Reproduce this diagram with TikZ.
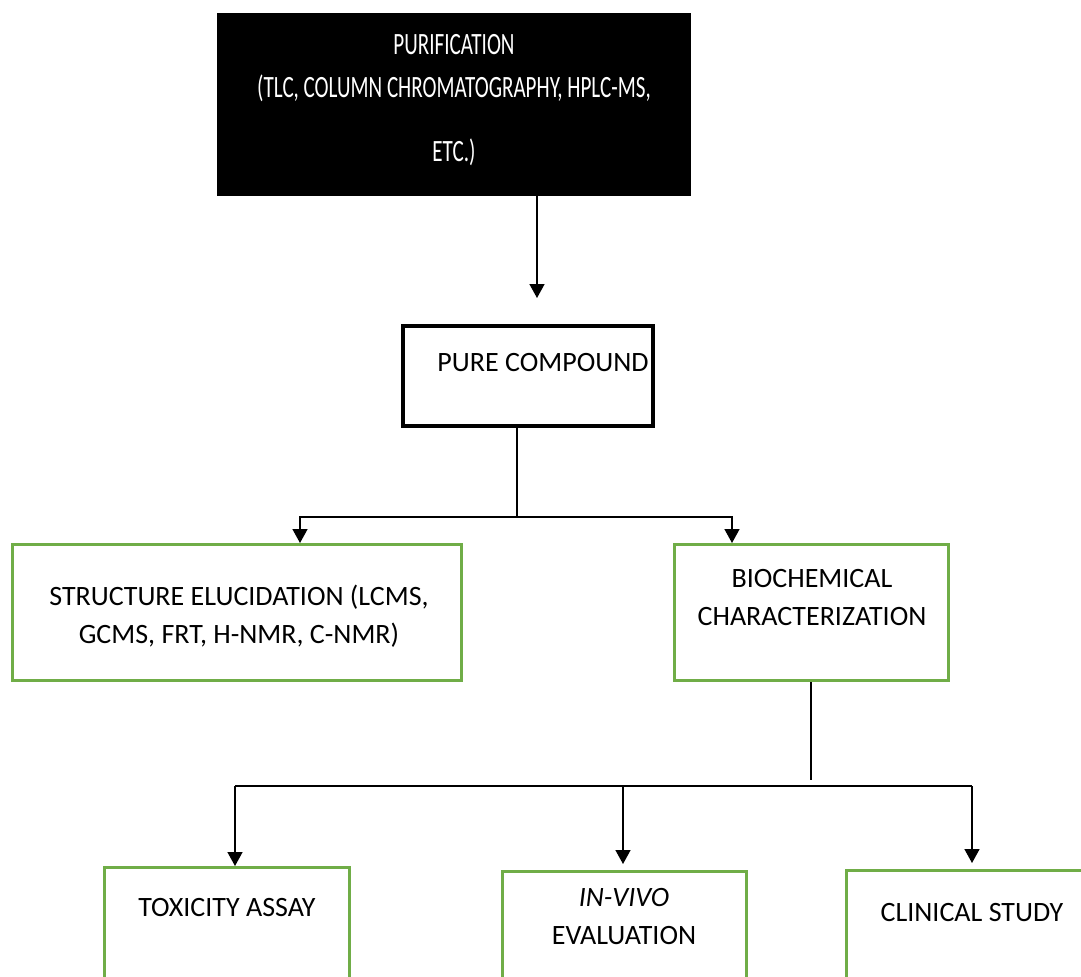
\documentclass[tikz,border=0pt]{standalone}
\usepackage{fontspec}
\setmainfont{Carlito}
\newfontfamily\narrowfont[FakeStretch=0.68]{Carlito}
\usetikzlibrary{arrows.meta}
\definecolor{boxgreen}{HTML}{70AD47}
\tikzset{
  link/.style={line width=0.75pt},
  arr/.style={link,-{Triangle[width=7.5pt,length=7pt]}},
  greenbox/.style={draw=boxgreen,line width=1.5pt,inner sep=0pt},
  txt/.style={font=\fontsize{14}{19}\selectfont,align=center,inner sep=0pt},
}
\begin{document}
\begin{tikzpicture}[x=0.5pt,y=-0.5pt]
	    \useasboundingbox (0,0) rectangle (1081,976);
	    \clip (0,0) rectangle (1081,976);
	    % boxes
	    \node[fill=black,inner sep=0pt,minimum width=237pt,minimum height=91.5pt] (purif) at (454,104.5) {};
	    \node[draw,line width=2pt,inner sep=0pt,minimum width=125pt,minimum height=50pt] (pure) at (528,376) {};
	    \node[greenbox,minimum width=224.5pt,minimum height=68pt] (struct) at (237,612.5) {};
	    \node[greenbox,minimum width=137pt,minimum height=68pt] (bio) at (811.5,612.5) {};
	    \node[greenbox,minimum width=122.5pt,minimum height=66.25pt] (tox) at (227,933.75) {};
	    \node[greenbox,minimum width=122pt,minimum height=64.25pt] (vivo) at (624.5,935.75) {};
	    \node[greenbox,minimum width=126.75pt,minimum height=64.75pt] (clin) at (973.25,935.25) {};
	    % texts
	    \node[txt,white,font=\fontsize{15.5}{19}\narrowfont] (purift) at (454,45) {PURIFICATION};
	    \node[txt,white,font=\fontsize{15.5}{32}\narrowfont] (purifm) at (454,120) {(TLC, COLUMN CHROMATOGRAPHY, HPLC-MS,\\ETC.)};
	    \node[txt] (puret) at (543,363) {PURE COMPOUND};
	    \node[txt] (structt) at (239,616.5) {STRUCTURE ELUCIDATION (LCMS,\\GCMS, FRT, H-NMR, C-NMR)};
	    \node[txt] (biot) at (812,597.5) {BIOCHEMICAL\\CHARACTERIZATION};
	    \node[txt] (toxt) at (227,907) {TOXICITY ASSAY};
	    \node[txt] (vivot) at (624,916.5) {\textit{IN-VIVO}\\EVALUATION};
	    \node[txt] (clint) at (972,912) {CLINICAL STUDY};
	    % connectors
	    \coordinate (a1) at (537,298);
	    \draw[arr] (purif.south -| a1) -- (a1);
	    \coordinate (j1) at (517,517);
	    \coordinate (sL) at (300,517);
	    \coordinate (sR) at (732,517);
	    \draw[link] (pure.south -| j1) -- (j1);
	    \draw[arr] (j1) -- (sL) -- (sL |- struct.north);
	    \draw[arr] (j1) -- (sR) -- (sR |- bio.north);
	    \coordinate (b1) at (811,780);
	    \coordinate (hL) at (235,786);
	    \coordinate (hM) at (623,786);
	    \coordinate (hR) at (972,786);
	    \draw[link] (bio.south -| b1) -- (b1);
	    \draw[link] (hL) -- (hR);
	    \draw[arr] (hL) -- (hL |- tox.north);
	    \draw[arr,shorten >=3pt] (hM) -- (hM |- vivo.north);
	    \draw[arr,shorten >=3pt] (hR) -- (hR |- clin.north);
\end{tikzpicture}
\end{document}
